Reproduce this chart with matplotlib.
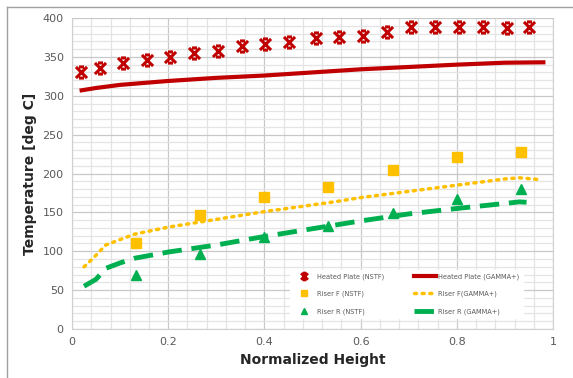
import numpy as np
import matplotlib.pyplot as plt
from matplotlib.lines import Line2D
from matplotlib.path import Path
from matplotlib.ticker import MultipleLocator

# heated plate, NSTF measurements
hp_x = [0.019, 0.058, 0.106, 0.156, 0.204, 0.254, 0.304, 0.353, 0.401, 0.451,
        0.507, 0.555, 0.605, 0.655, 0.705, 0.755, 0.805, 0.855, 0.904, 0.95]
hp_t = [331, 336, 342, 346, 350, 355, 357, 364, 367, 369,
        374, 376, 377, 382, 388, 389, 388, 388, 387, 388]

# heated plate, GAMMA+
hpg_x = [0.02, 0.05, 0.1, 0.2, 0.3, 0.4, 0.5, 0.6, 0.7, 0.8, 0.9, 0.98]
hpg_t = [307, 310, 314, 319, 323, 326, 330, 334, 337, 340, 342.5, 343]

# risers, NSTF
riser_x = [0.133, 0.267, 0.4, 0.533, 0.667, 0.8, 0.933]
rf_t = [111, 147, 170, 183, 204, 221, 228]
rr_t = [70, 97, 118, 133, 149, 167, 180]

# risers, GAMMA+
rfg_x = [0.025, 0.037, 0.05, 0.07, 0.1, 0.13, 0.2, 0.3, 0.4, 0.47, 0.55, 0.6, 0.7, 0.8, 0.9, 0.93, 0.975]
rfg_t = [80, 87, 95, 108, 115, 122, 131, 141, 151, 157, 164, 169, 177, 185, 193, 194.5, 192]
rrg_x = [0.025, 0.05, 0.07, 0.1, 0.13, 0.2, 0.3, 0.4, 0.5, 0.6, 0.7, 0.8, 0.9, 0.93, 0.945]
rrg_t = [55, 64, 78, 85, 91, 99, 108, 119, 129, 139, 148, 155, 161.5, 163.5, 163]

red = '#C00000'
yellow = '#FFC000'
green = '#00B050'
txt = '#595959'

# Excel-like star marker: X with short bars on top and bottom
star = Path([(-1, -1), (1, 1), (-1, 1), (1, -1), (-0.45, 1), (0.45, 1), (-0.45, -1), (0.45, -1)],
            [Path.MOVETO, Path.LINETO] * 4)

fig = plt.figure(figsize=(5.73, 3.78), dpi=100)
ax = fig.add_axes([0.1257, 0.1296, 0.8394, 0.8228])

ax.plot(hp_x, hp_t, ls='none', marker=star, ms=8, mew=2.2, mfc='none', color=red,
        label='Heated Plate (NSTF)')
ax.plot(hpg_x, hpg_t, color=red, lw=3, label='Heated Plate (GAMMA+)')
ax.plot(riser_x, rf_t, ls='none', marker='s', ms=7, color=yellow, label='Riser F (NSTF)')
ax.plot(rfg_x, rfg_t, color=yellow, lw=2.5, ls=(0, (0.6, 1.6)), dash_capstyle='round',
        label='Riser F(GAMMA+)')
ax.plot(riser_x, rr_t, ls='none', marker='^', ms=7, color=green, label='Riser R (NSTF)')
ax.plot(rrg_x, rrg_t, color=green, lw=3.5, ls=(0, (4, 2)), label='Riser R (GAMMA+)')

ax.set_xlim(0, 1)
ax.set_ylim(0, 400)
ax.xaxis.set_major_locator(MultipleLocator(0.2))
ax.xaxis.set_minor_locator(MultipleLocator(0.04))
ax.yaxis.set_major_locator(MultipleLocator(50))
ax.yaxis.set_minor_locator(MultipleLocator(10))
ax.grid(which='major', color='#c8c8c8', lw=0.9)
ax.grid(which='minor', color='#e4e4e4', lw=0.9)
ax.set_axisbelow(True)
ax.tick_params(which='both', length=0, labelsize=8, labelcolor=txt, pad=6)
ax.set_xticks([0, 0.2, 0.4, 0.6, 0.8, 1])
ax.set_xticklabels(['0', '0.2', '0.4', '0.6', '0.8', '1'])
for s in ax.spines.values():
    s.set_color('#d0d0d0')
ax.spines['top'].set_visible(False)

ax.set_xlabel('Normalized Height', fontsize=10, fontweight='bold', color='#262626', labelpad=4)
ax.set_ylabel('Temperature [deg C]', fontsize=10, fontweight='bold', color='#262626', labelpad=4)

h, l = ax.get_legend_handles_labels()
order = [0, 2, 4, 1, 3, 5]
leg = ax.legend([h[i] for i in order], [l[i] for i in order], ncol=2,
                loc='upper left', bbox_to_anchor=(0.453, 0.19),
                fontsize=4.8, frameon=True, fancybox=False,
                edgecolor='white', framealpha=1, markerscale=0.6,
                handlelength=3.3, handletextpad=0.3, columnspacing=4.5,
                labelspacing=1.65, borderpad=0.5, borderaxespad=0)
for t in leg.get_texts():
    t.set_color(txt)

# outer chart border (left and top edges visible)
fig.add_artist(Line2D([7 / 573, 7 / 573], [0, 1 - 7 / 378], color='#a0a0a0', lw=1))
fig.add_artist(Line2D([7 / 573, 1], [1 - 7 / 378, 1 - 7 / 378], color='#a0a0a0', lw=1))

fig.savefig('out.png', dpi=100)
